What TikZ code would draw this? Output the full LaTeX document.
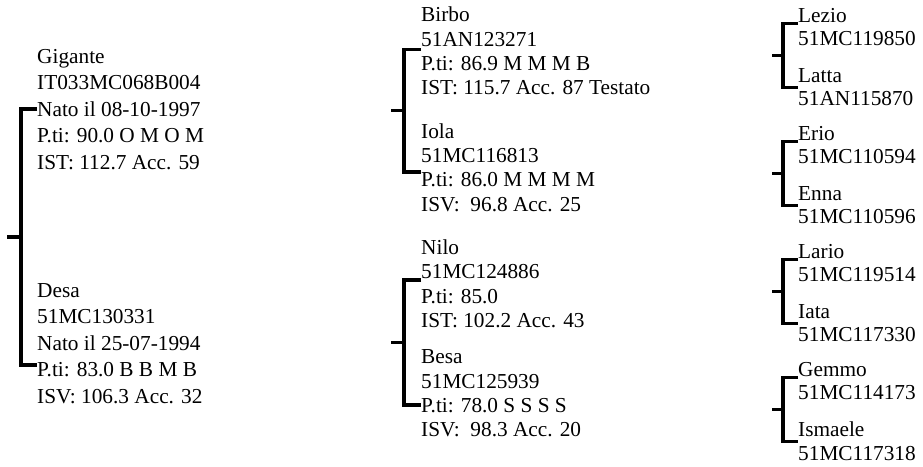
\documentclass[tikz,border=0pt]{standalone}
\usepackage{fontspec}
\setmainfont{Liberation Serif}
\usepackage{tikz}

\tikzset{
  animal/.style={anchor=north west,inner sep=0pt,align=left,font=\fontsize{21.3}{24.2}\selectfont},
  first/.style={animal,font=\fontsize{21.3}{26.5}\selectfont},
  last/.style={animal,font=\fontsize{21.3}{23.5}\selectfont},
  bracket/.style={line width=3.4pt,line join=miter}
}

\begin{document}
\begin{tikzpicture}[x=1pt,y=-1pt]
  \useasboundingbox (0,0) rectangle (923,466);

  % parents
  \node[first] (gigante) at (37,49) {Gigante\\IT033MC068B004\\Nato il 08-10-1997\\P.ti: 90.0 O M O M\\IST: 112.7 Acc. 59};
  \node[first] (desa) at (37,283) {Desa\\51MC130331\\Nato il 25-07-1994\\P.ti: 83.0 B B M B\\ISV: 106.3 Acc. 32};

  % grandparents
  \node[animal] (birbo) at (421,7) {Birbo\\51AN123271\\P.ti: 86.9 M M M B\\IST: 115.7 Acc. 87 Testato};
  \node[animal] (iola) at (421,123.5) {Iola\\51MC116813\\P.ti: 86.0 M M M M\\ISV:\ \ 96.8 Acc. 25};
  \node[animal] (nilo) at (421,239.7) {Nilo\\51MC124886\\P.ti: 85.0\\IST: 102.2 Acc. 43};
  \node[animal] (besa) at (421,349.7) {Besa\\51MC125939\\P.ti: 78.0 S S S S\\ISV:\ \ 98.3 Acc. 20};

  % great-grandparents
  \node[last] (lezio) at (798,8) {Lezio\\51MC119850};
  \node[last] (latta) at (798,68) {Latta\\51AN115870};
  \node[last] (erio) at (798,126) {Erio\\51MC110594};
  \node[last] (enna) at (798,186) {Enna\\51MC110596};
  \node[last] (lario) at (798,244) {Lario\\51MC119514};
  \node[last] (iata) at (798,304) {Iata\\51MC117330};
  \node[last] (gemmo) at (798,362) {Gemmo\\51MC114173};
  \node[last] (ismaele) at (798,422) {Ismaele\\51MC117318};

  % brackets
  \draw[bracket] (gigante.west |- 0,109) -| (21,365) -- (desa.west |- 0,365);
  \coordinate (subject) at (7,237);
  \draw[bracket] (subject) -- (21,237);

  \draw[bracket] (birbo.west |- 0,49.5) -| (404,172) -- (iola.west |- 0,172);
  \coordinate (gig-in) at (391,110.7);
  \draw[bracket] (gig-in) -- (404,110.7);
  \draw[bracket] (nilo.west |- 0,280) -| (404,405) -- (besa.west |- 0,405);
  \coordinate (desa-in) at (391,342.5);
  \draw[bracket] (desa-in) -- (404,342.5);

  \draw[bracket] (lezio.west |- 0,23.3) -| (783,87.3) -- (latta.west |- 0,87.3);
  \coordinate (birbo-in) at (772,55.3);
  \draw[bracket] (birbo-in) -- (783,55.3);
  \draw[bracket] (erio.west |- 0,141.3) -| (783,205.3) -- (enna.west |- 0,205.3);
  \coordinate (iola-in) at (772,173.3);
  \draw[bracket] (iola-in) -- (783,173.3);
  \draw[bracket] (lario.west |- 0,259.3) -| (783,323.3) -- (iata.west |- 0,323.3);
  \coordinate (nilo-in) at (772,291.3);
  \draw[bracket] (nilo-in) -- (783,291.3);
  \draw[bracket] (gemmo.west |- 0,377.3) -| (783,441.3) -- (ismaele.west |- 0,441.3);
  \coordinate (besa-in) at (772,409.3);
  \draw[bracket] (besa-in) -- (783,409.3);
\end{tikzpicture}
\end{document}
